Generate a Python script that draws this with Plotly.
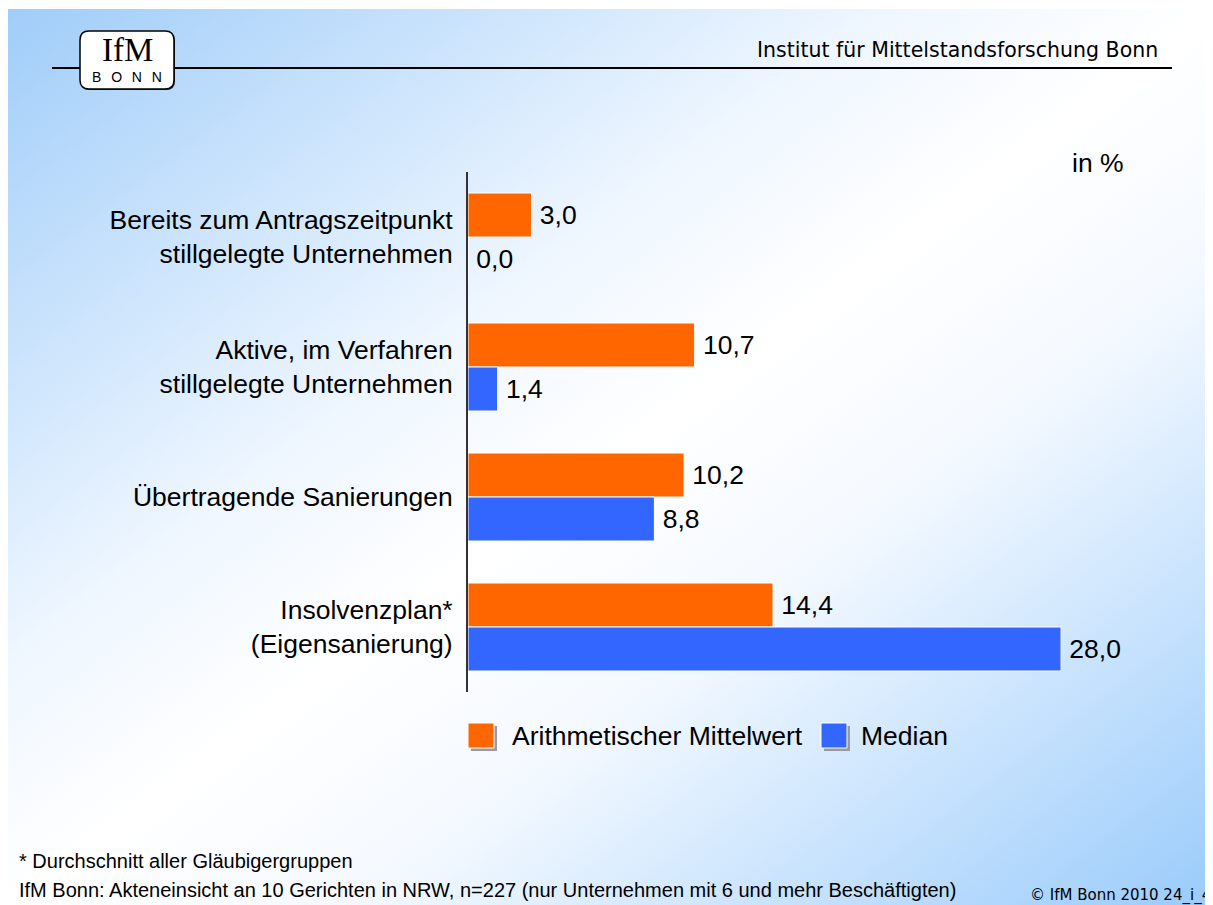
import base64
import plotly.graph_objects as go

# ---------------- data ----------------
categories = [
    "Bereits zum Antragszeitpunkt<br>stillgelegte Unternehmen",
    "Aktive, im Verfahren<br>stillgelegte Unternehmen",
    "Übertragende Sanierungen",
    "Insolvenzplan*<br>(Eigensanierung)",
]
mean_name = "Arithmetischer Mittelwert"
median_name = "Median"
mean_values = [3.0, 10.7, 10.2, 14.4]
median_values = [0.0, 1.4, 8.8, 28.0]

header_text = "Institut für Mittelstandsforschung Bonn"
unit_text = "in %"
footnote_text = "* Durchschnitt aller Gläubigergruppen"
source_text = "IfM Bonn: Akteneinsicht an 10 Gerichten in NRW, n=227 (nur Unternehmen mit 6 und mehr Beschäftigten)"
copyright_text = "© IfM Bonn 2010 24_i_4"

# ---------------- geometry (page pixels; page body has an 8px margin) ----------------
OFF = 8
W, H = 1213 - OFF, 905 - OFF
L, T = 468 - OFF, 172 - OFF
PW, PH = 692, 520
R = W - L - PW
B = H - T - PH
X_MAX = PW / 21.18

ORANGE = "#FF6600"
BLUE = "#3366FF"
FONT = "Liberation Sans, Arial, sans-serif"


def PX(x):
    """page x pixel -> paper fraction"""
    return (x - OFF - L) / PW


def PY(y):
    """page y pixel (from top) -> paper fraction"""
    return (T + PH - (y - OFF)) / PH


fig = go.Figure()
fig.add_trace(go.Bar(
    y=categories, x=mean_values, orientation="h", name=mean_name,
    marker=dict(color=ORANGE, line=dict(color="white", width=1)),
    texttemplate="\u2009%{x:.1f}", textposition="outside", cliponaxis=False,
    textfont=dict(size=26.5, color="black", family=FONT),
    constraintext="none", showlegend=False,
))
fig.add_trace(go.Bar(
    y=categories, x=median_values, orientation="h", name=median_name,
    marker=dict(color=BLUE, line=dict(color="white", width=1)),
    texttemplate="\u2009%{x:.1f}", textposition="outside", cliponaxis=False,
    textfont=dict(size=26.5, color="black", family=FONT),
    constraintext="none", showlegend=False,
))

# ---------------- background gradient ----------------
svg = (
    '<svg xmlns="http://www.w3.org/2000/svg" width="1207" height="896" '
    'preserveAspectRatio="none">'
    '<defs><linearGradient id="g" x1="0" y1="0" x2="1" y2="1">'
    '<stop offset="0" stop-color="#A0CDF9"/>'
    '<stop offset="0.36" stop-color="#EEF6FF"/>'
    '<stop offset="0.5" stop-color="#FFFFFF"/>'
    '<stop offset="0.64" stop-color="#F4F9FF"/>'
    '<stop offset="1" stop-color="#99CBFB"/>'
    '</linearGradient></defs>'
    '<rect x="0" y="0" width="1207" height="896" fill="url(#g)"/></svg>'
)
src = "data:image/svg+xml;base64," + base64.b64encode(svg.encode()).decode()
images = [dict(
    source=src, xref="paper", yref="paper",
    x=PX(OFF), y=PY(9), sizex=(W + 2) / PW, sizey=(H + 2) / PH,
    xanchor="left", yanchor="top", sizing="stretch", layer="below",
)]

shapes = []
annotations = []

# header line
shapes.append(dict(type="line", xref="paper", yref="paper",
                   x0=PX(52), x1=PX(1172), y0=PY(68), y1=PY(68),
                   line=dict(color="black", width=2)))


def rrect(x0, y0, x1, y1, r):
    pts = [
        ("M", [(x0 + r, y0)]), ("L", [(x1 - r, y0)]), ("Q", [(x1, y0), (x1, y0 + r)]),
        ("L", [(x1, y1 - r)]), ("Q", [(x1, y1), (x1 - r, y1)]), ("L", [(x0 + r, y1)]),
        ("Q", [(x0, y1), (x0, y1 - r)]), ("L", [(x0, y0 + r)]), ("Q", [(x0, y0), (x0 + r, y0)]),
    ]
    s = ""
    for cmd, ps in pts:
        s += cmd + " " + " ".join(f"{PX(a):.5f},{PY(b):.5f}" for a, b in ps) + " "
    return s + "Z"


# logo
shapes.append(dict(type="path", xref="paper", yref="paper", path=rrect(81, 32, 175, 90, 9),
                   fillcolor="#222222", line=dict(width=0)))
shapes.append(dict(type="path", xref="paper", yref="paper", path=rrect(80, 31, 174, 89, 9),
                   fillcolor="white", line=dict(color="black", width=1.5)))
annotations.append(dict(text="IfM", xref="paper", yref="paper", x=PX(127), y=PY(50.5),
                        xanchor="center", yanchor="middle", showarrow=False, borderpad=0,
                        font=dict(family="Liberation Serif, Times New Roman, serif", size=33, color="black")))
annotations.append(dict(text="B\u2002\u2009O\u2002\u2009N\u2002\u2009N", xref="paper", yref="paper",
                        x=PX(127), y=PY(76.5),
                        xanchor="center", yanchor="middle", showarrow=False, borderpad=0,
                        font=dict(family=FONT, size=14, color="black")))

# header text
annotations.append(dict(text=header_text, xref="paper", yref="paper", x=PX(1160), y=PY(50),
                        xanchor="right", yanchor="middle", showarrow=False,
                        font=dict(family="DejaVu Sans, sans-serif", size=20.5, color="black")))
# unit
annotations.append(dict(text=unit_text, xref="paper", yref="paper", x=PX(1070), y=PY(163),
                        xanchor="left", yanchor="middle", showarrow=False,
                        font=dict(family=FONT, size=26.5, color="black")))

# legend (manual)
legend_items = [(mean_name, ORANGE, 468, 510), (median_name, BLUE, 821, 859)]
for name, col, sx, tx in legend_items:
    shapes.append(dict(type="rect", xref="paper", yref="paper",
                       x0=PX(sx + 3), x1=PX(sx + 29), y0=PY(726), y1=PY(751),
                       fillcolor="#9A9A9A", line=dict(width=0)))
    shapes.append(dict(type="rect", xref="paper", yref="paper",
                       x0=PX(sx), x1=PX(sx + 26), y0=PY(723), y1=PY(748),
                       fillcolor=col, line=dict(color="white", width=1)))
    annotations.append(dict(text=name, xref="paper", yref="paper", x=PX(tx), y=PY(736),
                            xanchor="left", yanchor="middle", showarrow=False,
                            font=dict(family=FONT, size=26.5, color="black")))

# footer
annotations.append(dict(text=footnote_text, xref="paper", yref="paper", x=PX(17), y=PY(861),
                        xanchor="left", yanchor="middle", showarrow=False,
                        font=dict(family=FONT, size=20, color="black")))
annotations.append(dict(text=source_text, xref="paper", yref="paper", x=PX(17), y=PY(890),
                        xanchor="left", yanchor="middle", showarrow=False,
                        font=dict(family=FONT, size=20, color="black")))
annotations.append(dict(text=copyright_text, xref="paper", yref="paper", x=PX(1213), y=PY(895),
                        xanchor="right", yanchor="middle", showarrow=False,
                        font=dict(family="DejaVu Sans, sans-serif", size=15, color="black")))

fig.update_layout(
    width=W, height=H,
    margin=dict(l=L, r=R, t=T, b=B, autoexpand=False),
    paper_bgcolor="white", plot_bgcolor="rgba(0,0,0,0)",
    barmode="group", bargap=1 - 88 / 130, bargroupgap=0,
    separators=",.",
    images=images, shapes=shapes, annotations=annotations,
    showlegend=False,
    xaxis=dict(range=[0, X_MAX], visible=False, fixedrange=True),
    yaxis=dict(
        autorange="reversed", showline=True, linecolor="#333333", linewidth=2,
        showgrid=False, zeroline=False, ticks="", ticklabelstandoff=8,
        tickfont=dict(family=FONT, size=26.5, color="black"), automargin=False,
    ),
    font=dict(family=FONT),
)

fig.write_html("out.html")
